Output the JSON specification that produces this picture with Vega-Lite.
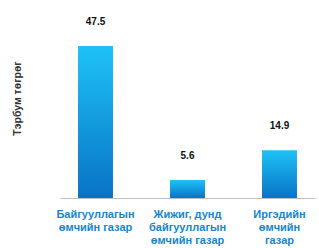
{
  "$schema": "https://vega.github.io/schema/vega-lite/v6.json",
  "width": 255,
  "height": 192,
  "autosize": "none",
  "padding": {"left": 60, "top": 6, "right": 4, "bottom": 50},
  "config": {"view": {"stroke": null}, "font": "Liberation Sans"},
  "data": {
    "values": [
      {"category": "Байгууллагын өмчийн газар", "value": 47.5},
      {"category": "Жижиг, дунд байгууллагын өмчийн газар", "value": 5.6},
      {"category": "Иргэдийн өмчийн газар", "value": 14.9}
    ]
  },
  "encoding": {
    "x": {
      "field": "category",
      "type": "nominal",
      "sort": null,
      "scale": {"paddingInner": 0.62, "paddingOuter": 0.196},
      "axis": {
        "title": null,
        "labelAngle": 0,
        "ticks": false,
        "domainColor": "#bfbfbf",
        "domainWidth": 1,
        "labelColor": "#1485d0",
        "labelFontWeight": "bold",
        "labelFontSize": 11,
        "labelLineHeight": 13,
        "labelPadding": 10,
        "labelLimit": 0,
        "labelExpr": "datum.value == 'Байгууллагын өмчийн газар' ? ['Байгууллагын', 'өмчийн газар'] : datum.value == 'Иргэдийн өмчийн газар' ? ['Иргэдийн', 'өмчийн', 'газар'] : ['Жижиг, дунд', 'байгууллагын', 'өмчийн газар']"
      }
    },
    "y": {
      "field": "value",
      "type": "quantitative",
      "scale": {"domain": [0, 60]},
      "axis": {
        "title": "Тэрбум төгрөг",
        "labels": false,
        "ticks": false,
        "domain": false,
        "grid": false,
        "titleFontWeight": "bold",
        "titleFontSize": 10.5,
        "titleColor": "#333333",
        "titlePadding": 38,
        "titleY": 92
      }
    }
  },
  "layer": [
    {
      "mark": {
        "type": "bar",
        "color": {
          "gradient": "linear",
          "x1": 0, "y1": 0, "x2": 0, "y2": 1,
          "stops": [
            {"offset": 0, "color": "#1ec2f7"},
            {"offset": 1, "color": "#0873c5"}
          ]
        }
      }
    },
    {
      "mark": {
        "type": "text",
        "baseline": "bottom",
        "dy": -19,
        "fontWeight": "bold",
        "fontSize": 10,
        "color": "#111111"
      },
      "encoding": {
        "text": {"field": "value", "type": "quantitative", "format": ".1f"}
      }
    }
  ]
}
